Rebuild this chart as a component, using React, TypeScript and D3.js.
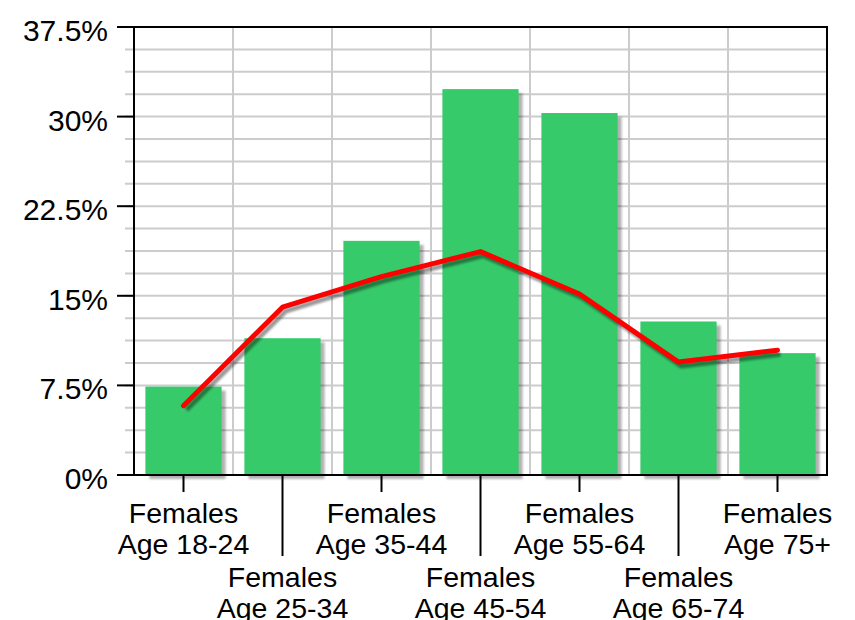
import React from "react";
import * as d3 from "d3";

const categories = [
  "Females|Age 18-24",
  "Females|Age 25-34",
  "Females|Age 35-44",
  "Females|Age 45-54",
  "Females|Age 55-64",
  "Females|Age 65-74",
  "Females|Age 75+",
];
const barValues = [7.4, 11.45, 19.6, 32.3, 30.3, 12.85, 10.2];
const lineValues = [5.8, 14.05, 16.6, 18.7, 15.15, 9.45, 10.45];
const yTicks = [0, 7.5, 15, 22.5, 30, 37.5];
const yTickLabels = ["0%", "7.5%", "15%", "22.5%", "30%", "37.5%"];

const W = 855;
const H = 620;
const left = 134;
const right = 827;
const top = 27;
const bottom = 475;
const FONT = "'Liberation Sans', Arial, sans-serif";

export default function App() {
  const y = d3.scaleLinear().domain([0, 37.5]).range([bottom, top]);
  const xBar = d3.scaleBand<string>().domain(categories).range([left, right]).paddingInner(0.23).paddingOuter(0.115);
  const xCell = d3.scaleBand<string>().domain(categories).range([left, right]).padding(0);
  const center = (c: string) => (xCell(c) as number) + xCell.bandwidth() / 2;

  const minorTicks = d3.range(0, 37.5 + 0.001, 1.875);
  const line = d3
    .line<number>()
    .x((_, i) => center(categories[i]))
    .y((v) => y(v));
  const linePath = line(lineValues) || "";

  return (
    <svg width={W} height={H} style={{ position: "absolute", left: 0, top: 0 }} fontFamily={FONT}>
      <defs>
        <filter id="blur" x="-20%" y="-20%" width="140%" height="140%">
          <feGaussianBlur stdDeviation="1.3" />
        </filter>
      </defs>
      <rect x={0} y={0} width={W} height={H} fill="#fff" />
      {/* horizontal minor grid */}
      {minorTicks.map((t, i) => (
        <line key={"h" + i} x1={125} x2={right} y1={y(t)} y2={y(t)} stroke="#cccccc" strokeWidth={2} />
      ))}
      {/* vertical grid at category boundaries */}
      {categories.slice(1).map((c, i) => (
        <line key={"v" + i} x1={xCell(c)} x2={xCell(c)} y1={top} y2={bottom} stroke="#cccccc" strokeWidth={2} />
      ))}
      {/* bar shadows */}
      <g filter="url(#blur)">
        {categories.map((c, i) => (
          <rect
            key={"bs" + i}
            x={(xBar(c) as number) + 4}
            y={y(barValues[i]) + 4}
            width={xBar.bandwidth()}
            height={bottom - y(barValues[i])}
            fill="rgba(0,0,0,0.3)"
          />
        ))}
      </g>
      {/* bars */}
      {categories.map((c, i) => (
        <rect
          key={"b" + i}
          x={xBar(c)}
          y={y(barValues[i])}
          width={xBar.bandwidth()}
          height={bottom - y(barValues[i])}
          fill="#36ca6a"
        />
      ))}
      {/* line shadow */}
      <path
        d={linePath}
        transform="translate(3,4)"
        fill="none"
        stroke="rgba(0,0,0,0.4)"
        strokeWidth={5}
        strokeLinejoin="round"
        filter="url(#blur)"
      />
      <path d={linePath} fill="none" stroke="#ff0000" strokeWidth={5} strokeLinejoin="round" strokeLinecap="round" />
      {/* frame */}
      <line x1={left} x2={left} y1={top} y2={bottom} stroke="#000" strokeWidth={2} />
      <line x1={right} x2={right} y1={top - 1} y2={bottom} stroke="#000" strokeWidth={2} />
      <line x1={117} x2={right + 1} y1={top} y2={top} stroke="#000" strokeWidth={2} />
      <line x1={117} x2={right + 1} y1={bottom} y2={bottom} stroke="#000" strokeWidth={2} />
      {/* y ticks */}
      {yTicks.map((t, i) => (
        <g key={"yt" + i}>
          <line x1={117} x2={left} y1={y(t)} y2={y(t)} stroke="#000" strokeWidth={2} />
          <text x={108} y={y(t) + 14} textAnchor="end" fontSize={30} fill="#000">
            {yTickLabels[i]}
          </text>
        </g>
      ))}
      {/* x ticks and labels */}
      {categories.map((c, i) => {
        const cx = center(c);
        const lower = i % 2 === 1;
        const lines = c.split("|");
        const base = lower ? 587 : 523;
        return (
          <g key={"xt" + i}>
            <line x1={cx} x2={cx} y1={bottom} y2={lower ? 556 : 492} stroke="#000" strokeWidth={2} />
            {lines.map((l, j) => (
              <text key={j} x={cx} y={base + j * 31} textAnchor="middle" fontSize={28.5} fill="#000">
                {l}
              </text>
            ))}
          </g>
        );
      })}
    </svg>
  );
}
